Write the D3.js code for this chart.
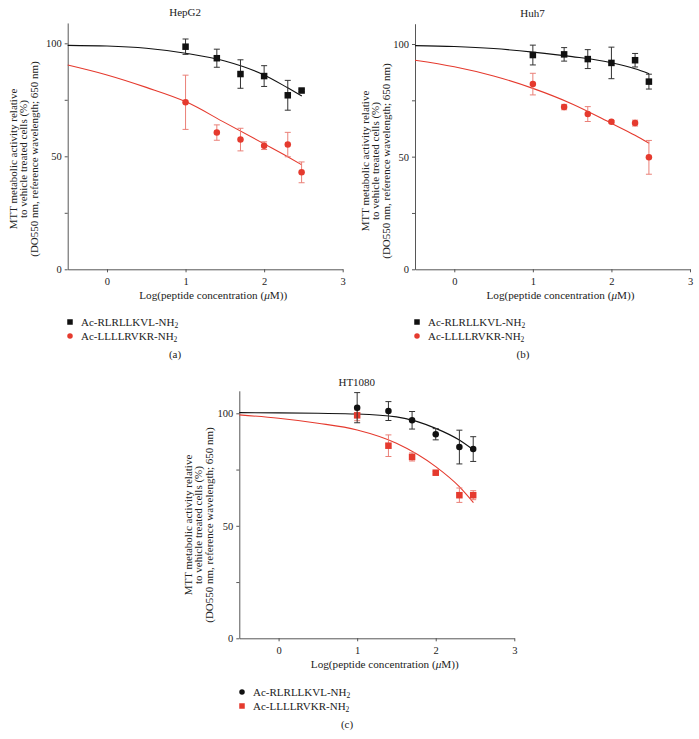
<!DOCTYPE html>
<html>
<head>
<meta charset="utf-8">
<script src="https://cdn.jsdelivr.net/npm/d3@7/dist/d3.min.js"></script>
<style>
body{margin:0;background:#fff;}
svg text{font-family:"Liberation Serif","DejaVu Serif",serif;fill:#222;}
</style>
</head>
<body>
<svg id="c" width="699" height="739"></svg>
<script>
// ---- data ----
const doses = [1, 1.398, 1.699, 2, 2.301, 2.477];
const curveX = [-0.5, 0, 0.5, 1, 1.5, 2, 2.3, 2.48];
const xTicks = [0, 1, 2, 3];
const yTicks = [0, 25, 50, 75, 100];
const yLabels = [0, 50, 100];
const seriesNames = ["Ac-RLRLLKVL-NH", "Ac-LLLLRVKR-NH"];

const hepg2_RLR = [98.5, 93.4, 86.4, 85.5, 77.0, 79.1];
const hepg2_RLR_err = [3.4, 4.0, 6.3, 4.6, 6.6, 0.6];
const hepg2_LLL = [73.9, 60.5, 57.4, 54.7, 55.2, 42.9];
const hepg2_LLL_err = [12.0, 3.4, 5.0, 1.7, 5.4, 4.6];
const hepg2_RLR_fit = [99.1, 98.8, 97.8, 95.6, 92.2, 86.0, 80.3, 76.7];
const hepg2_LLL_fit = [90.4, 86.0, 80.5, 74.2, 64.9, 55.5, 49.8, 46.2];

const huh7_RLR = [95.1, 95.4, 93.3, 91.6, 92.8, 83.3];
const huh7_RLR_err = [4.4, 3.0, 4.2, 7.0, 3.0, 3.3];
const huh7_LLL = [82.2, 72.0, 68.9, 65.5, 64.9, 49.7];
const huh7_LLL_err = [4.8, 1.2, 3.3, 0.5, 1.3, 7.5];
const huh7_RLR_fit = [99.3, 98.9, 98.0, 96.4, 94.4, 91.7, 89.0, 86.8];
const huh7_LLL_fit = [92.8, 89.9, 85.8, 80.3, 73.4, 64.8, 59.5, 55.9];

const ht1080_RLR = [102.5, 101.0, 96.9, 90.7, 85.0, 84.1];
const ht1080_RLR_err = [6.7, 4.2, 3.9, 2.5, 7.5, 5.5];
const ht1080_LLL = [99.1, 85.6, 80.6, 73.6, 63.6, 63.6];
const ht1080_LLL_err = [2.4, 4.8, 1.8, 0.6, 3.2, 2.0];
const ht1080_RLR_fit = [100.3, 100.2, 100.0, 99.7, 98.4, 93.3, 88.1, 83.7];
const ht1080_LLL_fit = [99.3, 97.8, 95.6, 92.6, 86.7, 76.3, 67.4, 60.3];

const BLACK = "#111", RED = "#e53a2e", RED_ERR = "#ea8078", BLACK_ERR = "#333";

const panels = [
  {title:"HepG2", cap:"(a)", x0:67.7, x1:342.7, y0:269.3, y100:43.3, yTop:109,
   legX:70, legY:322, capX:175, capY:358, ylabX:54.4, ylabC:159,
   s:[{v:hepg2_RLR,e:hepg2_RLR_err,f:hepg2_RLR_fit,col:BLACK,ecol:BLACK_ERR,shape:"sq"},
      {v:hepg2_LLL,e:hepg2_LLL_err,f:hepg2_LLL_fit,col:RED,ecol:RED_ERR,shape:"ci"}]},
  {title:"Huh7", cap:"(b)", x0:415, x1:690, y0:269.3, y100:44, yTop:109,
   legX:417, legY:322, capX:523, capY:358, ylabX:50, ylabC:161,
   s:[{v:huh7_RLR,e:huh7_RLR_err,f:huh7_RLR_fit,col:BLACK,ecol:BLACK_ERR,shape:"sq"},
      {v:huh7_LLL,e:huh7_LLL_err,f:huh7_LLL_fit,col:RED,ecol:RED_ERR,shape:"ci"}]},
  {title:"HT1080", cap:"(c)", x0:239.3, x1:514.3, y0:638.3, y100:413.3, yTop:110,
   legX:242, legY:692, capX:347, capY:728, ylabX:51, ylabC:525,
   s:[{v:ht1080_LLL,e:ht1080_LLL_err,f:ht1080_LLL_fit,col:RED,ecol:RED_ERR,shape:"sq",leg:1},
      {v:ht1080_RLR,e:ht1080_RLR_err,f:ht1080_RLR_fit,col:BLACK,ecol:BLACK_ERR,shape:"ci",leg:0}]}
];

const svg = d3.select("#c");

function marker(g, shape, cx, cy, col, size){
  if(shape==="sq"){
    g.append("rect").attr("x",cx-size/2).attr("y",cy-size/2).attr("width",size).attr("height",size).attr("fill",col);
  } else {
    g.append("circle").attr("cx",cx).attr("cy",cy).attr("r",size/2).attr("fill",col);
  }
}

panels.forEach(p=>{
  const x = d3.scaleLinear().domain([-0.5,3]).range([p.x0,p.x1]);
  const yPer = (p.y0-p.y100)/100;
  const y = d3.scaleLinear().domain([0,p.yTop]).range([p.y0, p.y0 - p.yTop*yPer]);
  const g = svg.append("g");

  // axes
  const xa = g.append("g").attr("transform",`translate(0,${p.y0})`)
    .call(d3.axisBottom(x).tickValues(xTicks).tickSize(3).tickSizeOuter(0).tickPadding(5).tickFormat(d3.format("d")));
  const ya = g.append("g").attr("transform",`translate(${p.x0},0)`)
    .call(d3.axisLeft(y).tickValues(yTicks).tickSize(3).tickSizeOuter(0).tickPadding(3)
      .tickFormat(d=>yLabels.includes(d)?d:""));
  [xa,ya].forEach(a=>{
    a.selectAll("path,line").attr("stroke","#444").attr("stroke-width",0.9);
    a.selectAll("text").attr("font-size",10.5).attr("fill","#222").style("font-family","Liberation Serif");
  });

  // title
  g.append("text").attr("x",(p.x0+p.x1)/2-20).attr("y",p.y100-27).attr("text-anchor","middle")
    .attr("font-size",11).text(p.title);

  // y label
  const yl = g.append("text").attr("transform",`translate(${p.x0-p.ylabX+3.8},${p.ylabC}) rotate(-90)`)
    .attr("text-anchor","middle").attr("font-size",11);
  ["MTT metabolic activity relative","to vehicle treated cells (%)","(DO550 nm, reference wavelength; 650 nm)"]
    .forEach((t,i)=>yl.append("tspan").attr("x",0).attr("dy",i?10.4:0).text(t));

  // x label
  const xl = g.append("text").attr("x",(p.x0+p.x1)/2+8).attr("y",p.y0+30).attr("text-anchor","middle").attr("font-size",11.2);
  xl.append("tspan").text("Log(peptide concentration (");
  xl.append("tspan").attr("font-style","italic").text("μ");
  xl.append("tspan").text("M))");

  // curves & points
  const line = d3.line().x((d,i)=>x(curveX[i])).y(d=>y(d)).curve(d3.curveMonotoneX);
  p.s.forEach(s=>{
    g.append("path").attr("d",line(s.f)).attr("fill","none").attr("stroke",s.col).attr("stroke-width",1.1);
  });
  p.s.forEach(s=>{
    const sg = g.append("g");
    doses.forEach((d,i)=>{
      const cx = x(d), lo = y(s.v[i]-s.e[i]), hi = y(s.v[i]+s.e[i]);
      sg.append("line").attr("x1",cx).attr("x2",cx).attr("y1",lo).attr("y2",hi).attr("stroke",s.ecol).attr("stroke-width",1);
      [lo,hi].forEach(yy=>sg.append("line").attr("x1",cx-3).attr("x2",cx+3).attr("y1",yy).attr("y2",yy).attr("stroke",s.ecol).attr("stroke-width",1));
      marker(sg, s.shape, cx, y(s.v[i]), s.col, 6.5);
    });
  });

  // legend
  const legOrder = p.s.map((s,k)=>({s, idx: s.leg!==undefined? s.leg : k})).sort((a,b)=>a.idx-b.idx);
  legOrder.forEach((o,i)=>{
    const ly = p.legY + i*14;
    marker(g, o.s.shape, p.legX, ly, o.s.col, 5.5);
    const t = g.append("text").attr("x",p.legX+11).attr("y",ly+3.8).attr("font-size",11);
    t.append("tspan").text(seriesNames[o.idx]);
    t.append("tspan").attr("font-size",7.5).attr("dy",2.5).text("2");
  });

  // caption
  g.append("text").attr("x",p.capX).attr("y",p.capY).attr("text-anchor","middle").attr("font-size",11).text(p.cap);
});
</script>
</body>
</html>
